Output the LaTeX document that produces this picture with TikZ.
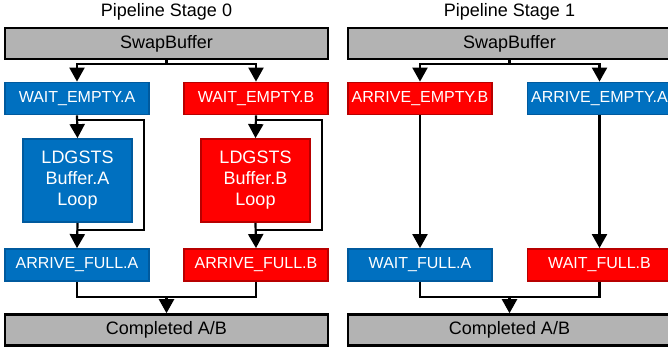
\documentclass[tikz,border=0pt]{standalone}
\usepackage{fontspec}
\setmainfont{Liberation Sans}
\usetikzlibrary{arrows.meta,calc}

\definecolor{boxblue}{HTML}{0070C0}
\definecolor{edgeblue}{HTML}{005A9E}
\definecolor{boxred}{HTML}{FF0000}
\definecolor{edgered}{HTML}{B80000}
\definecolor{boxgray}{HTML}{B3B3B3}

\tikzset{
  bigtext/.style={font=\fontsize{18}{21}\selectfont},
  smalltext/.style={font=\fontsize{16}{19}\selectfont},
  stagebox/.style={draw=black, line width=2.6pt, fill=boxgray, text=black,
    minimum width=323pt, minimum height=31pt, inner sep=0pt, bigtext},
  flagbox/.style={line width=1.8pt, text=white, minimum width=144pt,
    minimum height=32pt, inner sep=0pt, smalltext},
  bluebox/.style={flagbox, draw=edgeblue, fill=boxblue},
  redbox/.style={flagbox, draw=edgered, fill=boxred},
  loopbox/.style={line width=1.8pt, text=white, minimum width=109pt,
    minimum height=83pt, inner sep=0pt, align=center, bigtext},
  title/.style={text=black, inner sep=0pt, bigtext},
  link/.style={draw=black, line width=2.2pt},
  arrowlink/.style={link, -{Triangle[length=14pt,width=15pt]}},
}

\begin{document}
\begin{tikzpicture}[x=1pt, y=-1pt]
  \useasboundingbox (0,0) rectangle (668,354);
  \clip (0,0) rectangle (668,354);

  % ---------- Stage 0: producer side ----------
  \node[title] (t0) at (166.5,12) {Pipeline Stage 0};
  \node[stagebox] (sb0) at (166.5,43.5) {SwapBuffer};
  \node[bluebox] (wea) at (77,98.5) {WAIT\_EMPTY.A};
  \node[redbox]  (web) at (256,98.5) {WAIT\_EMPTY.B};
  \node[loopbox, draw=edgeblue, fill=boxblue] (lda) at (77.5,180.5) {LDGSTS\\Buffer.A\\Loop};
  \node[loopbox, draw=edgered, fill=boxred]   (ldb) at (255.5,180.5) {LDGSTS\\Buffer.B\\Loop};
  \node[bluebox] (afa) at (77,265) {ARRIVE\_FULL.A};
  \node[redbox]  (afb) at (256,265) {ARRIVE\_FULL.B};
  \node[stagebox] (cp0) at (166.5,330) {Completed A/B};

  \coordinate (s0) at (166.5,64);
  \coordinate (m0) at (166.5,297);
  \draw[link] (sb0.south) -- (s0);
  \draw[arrowlink] (s0) -| (wea.north);
  \draw[arrowlink] (s0) -| (web.north);

  % loops around the copy boxes
  \coordinate (la1) at (144,120);
  \coordinate (la2) at (144,230);
  \coordinate (lb1) at (322,120);
  \coordinate (lb2) at (322,230);
  \draw[arrowlink] (wea.south) -- (lda.north);
  \draw[link] (wea.south |- la1) -- (la1) -- (la2) -- (lda.south |- la2);
  \draw[arrowlink] (lda.south) -- (afa.north);
  \draw[arrowlink] (web.south) -- (ldb.north);
  \draw[link] (web.south |- lb1) -- (lb1) -- (lb2) -- (ldb.south |- lb2);
  \draw[arrowlink] (ldb.south) -- (afb.north);

  \draw[link] (afa.south) |- (m0);
  \draw[link] (afb.south) |- (m0);
  \draw[arrowlink] (m0) -- (cp0.north);

  % ---------- Stage 1: consumer side ----------
  \node[title] (t1) at (509.5,12) {Pipeline Stage 1};
  \node[stagebox] (sb1) at (509.5,43.5) {SwapBuffer};
  \node[redbox]  (aeb) at (420,98.5) {ARRIVE\_EMPTY.B};
  \node[bluebox] (aea) at (599.5,98.5) {ARRIVE\_EMPTY.A};
  \node[bluebox] (wfa) at (420,265) {WAIT\_FULL.A};
  \node[redbox]  (wfb) at (599.5,265) {WAIT\_FULL.B};
  \node[stagebox] (cp1) at (509.5,330) {Completed A/B};

  \coordinate (s1) at (509.5,64);
  \coordinate (m1) at (509.5,297);
  \draw[link] (sb1.south) -- (s1);
  \draw[arrowlink] (s1) -| (aeb.north);
  \draw[arrowlink] (s1) -| (aea.north);
  \draw[arrowlink] (aeb.south) -- (wfa.north);
  \draw[arrowlink] (aea.south) -- (wfb.north);
  \draw[link] (wfa.south) |- (m1);
  \draw[link] (wfb.south) |- (m1);
  \draw[arrowlink] (m1) -- (cp1.north);
\end{tikzpicture}
\end{document}
